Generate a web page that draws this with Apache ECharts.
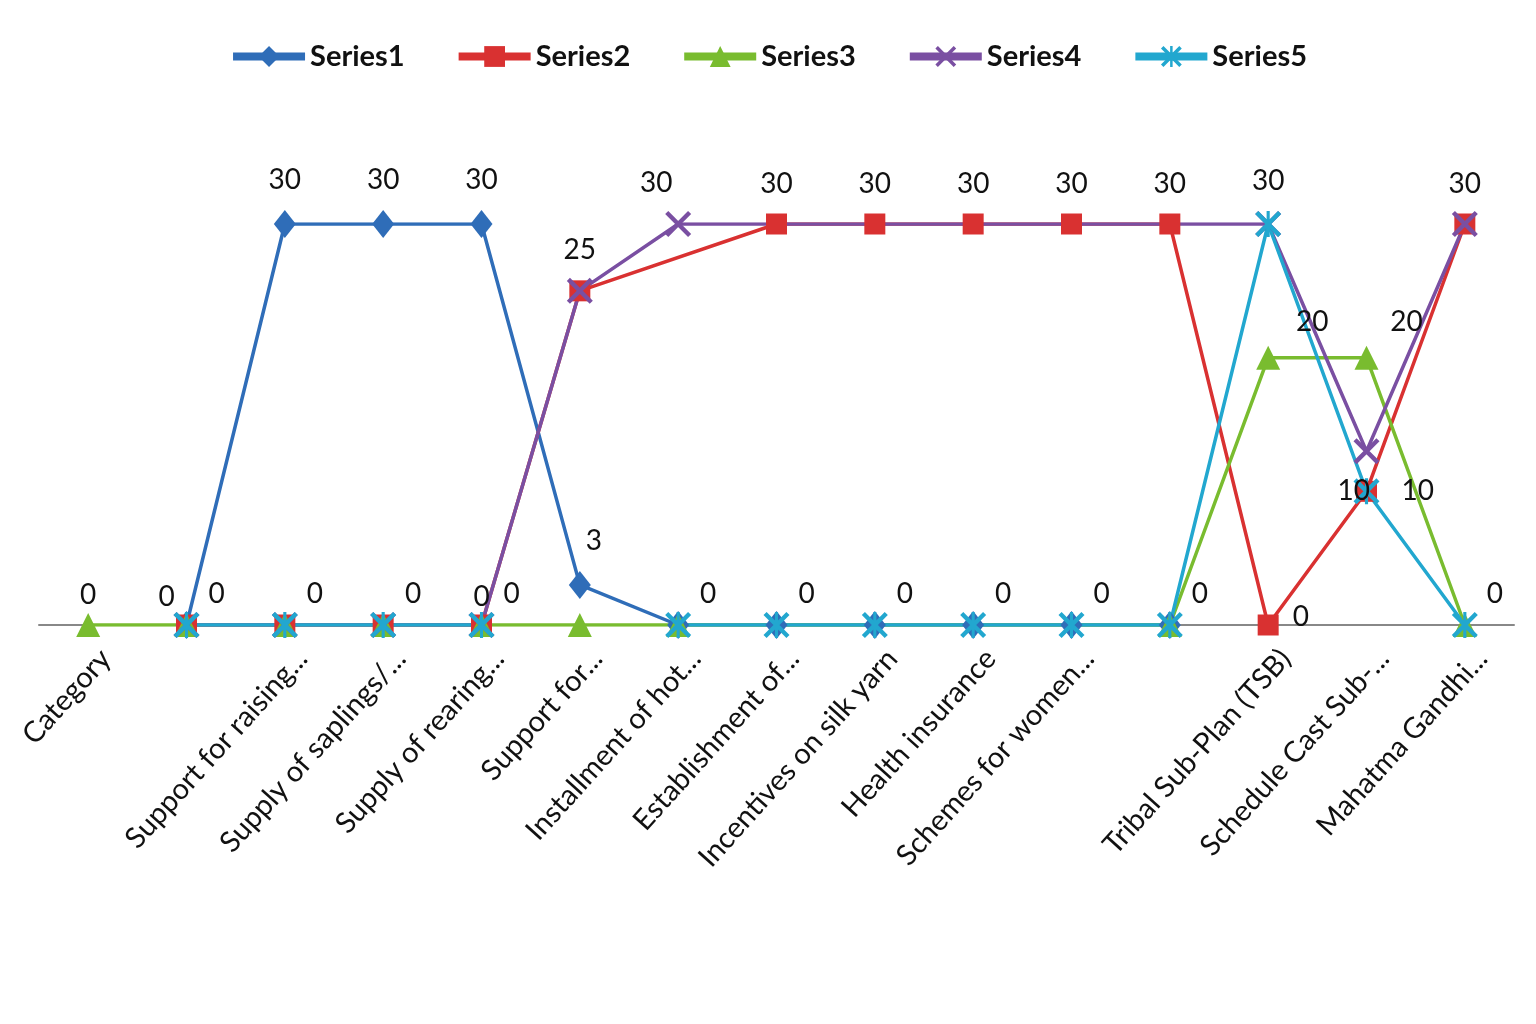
<!DOCTYPE html>
<html>
<head>
<meta charset="utf-8">
<title>Series chart</title>
<script src="https://cdn.jsdelivr.net/npm/echarts@6/dist/echarts.min.js"></script>
<style>
  html, body { margin: 0; padding: 0; background: #fff; }
  #chart { width: 1536px; height: 1024px; }
</style>
</head>
<body>
<div id="chart"></div>
<script>
// categories (two unlabeled slots, as in the source sheet)
const categories = [
  'Category', '', 'Support for raising...', 'Supply of saplings/...', 'Supply of rearing...',
  'Support for...', 'Installment of hot...', 'Establishment of...', 'Incentives on silk yarn',
  'Health insurance', 'Schemes for women...', '', 'Tribal Sub-Plan (TSB)',
  'Schedule Cast Sub-...', 'Mahatma Gandhi...'
];

const series1 = [null, 0, 30, 30, 30, 3, 0, 0, 0, 0, 0, 0, null, null, null];
const series2 = [null, 0, 0, 0, 0, 25, null, 30, 30, 30, 30, 30, 0, 10, 30];
const series3 = [0, 0, 0, 0, 0, 0, 0, null, null, null, null, 0, 20, 20, 0];
const series4 = [null, 0, 0, 0, 0, 25, 30, null, null, null, null, null, 30, 13, 30];
const series5 = [null, 0, 0, 0, 0, null, 0, 0, 0, 0, 0, 0, 30, 10, 0];

const FONT = 'Lato, "Open Sans", sans-serif';

const xPath = 'path://M0,1.2L1.2,0L10,8.8L8.8,10Z M8.8,0L10,1.2L1.2,10L0,8.8Z';
const starPath = xPath + ' M4.4,0L5.6,0L5.6,10L4.4,10Z';

// label placements
const above = { position: 'top', distance: 16 };
const zeroTop = { position: 'top', distance: 4 };
const zeroRight = { position: 'top', distance: 4, offset: [30, 0] };
const zeroLeft = { position: 'top', distance: 4, offset: [-20, 0] };

function withLabels(values, marks) {
  return values.map(function (v, i) {
    const m = marks[i];
    return {
      value: v === null ? '-' : v,
      label: m ? Object.assign({ show: true }, m) : { show: false }
    };
  });
}

function lineSeries(name, color, data, symbol, size, extra) {
  return Object.assign({
    name: name,
    type: 'line',
    data: data,
    symbol: symbol,
    symbolSize: size,
    showAllSymbol: true,
    lineStyle: { color: color, width: 3.5 },
    itemStyle: { color: color },
    label: { color: '#111', fontFamily: FONT, fontSize: 28 },
    emphasis: { disabled: true },
    animation: false
  }, extra || {});
}

let chart = echarts.init(document.getElementById('chart'));
chart.setOption({
  backgroundColor: '#fff',
  textStyle: { fontFamily: FONT },
  legend: {
    top: 37,
    left: 'center',
    itemWidth: 72,
    itemHeight: 26,
    itemGap: 50,
    lineStyle: { width: 8 },
    textStyle: { fontFamily: FONT, fontSize: 29, fontWeight: 'bold', color: '#111' }
  },
  grid: { left: 39, right: 22, top: 224, bottom: 399 },
  xAxis: {
    type: 'category',
    data: categories,
    boundaryGap: true,
    axisLine: { lineStyle: { color: '#888', width: 2 } },
    axisTick: { show: false },
    axisLabel: {
      rotate: 48,
      interval: 0,
      margin: 48,
      padding: [0, -26, 0, 0],
      color: '#111',
      fontFamily: FONT,
      fontSize: 29
    }
  },
  yAxis: {
    type: 'value',
    min: 0,
    max: 30,
    show: false,
    splitLine: { show: false }
  },
  series: [
    lineSeries('Series1', '#2f6db8', withLabels(series1, {
      2: above, 3: above, 4: above,
      5: { position: 'top', distance: 16, offset: [14, 0] }
    }), 'diamond', [22, 28]),
    lineSeries('Series2', '#d93131', withLabels(series2, {
      1: zeroLeft, 4: zeroTop, 5: above,
      7: above, 8: above, 9: above, 10: above, 11: above,
      12: { position: 'right', distance: 14, offset: [0, -8] },
      13: { position: 'left', distance: -14 },
      14: above
    }), 'rect', 21, { connectNulls: true, z: 3 }),
    lineSeries('Series3', '#79bc2f', withLabels(series3, {
      0: zeroTop,
      12: { position: 'top', distance: 10, offset: [44, 0] },
      13: { position: 'top', distance: 10, offset: [40, 0] }
    }), 'triangle', 24, { connectNulls: true }),
    lineSeries('Series4', '#7a4fa2', withLabels(series4, {
      6: { position: 'top', distance: 14, offset: [-22, 0] }
    }), xPath, 26, { connectNulls: true }),
    lineSeries('Series5', '#22a7cf', withLabels(series5, {
      1: zeroRight, 2: zeroRight, 3: zeroRight, 4: zeroRight,
      6: zeroRight, 7: zeroRight, 8: zeroRight, 9: zeroRight, 10: zeroRight, 11: zeroRight,
      12: above,
      13: { position: 'right', distance: 22 },
      14: zeroRight
    }), starPath, 26)
  ]
});
</script>
</body>
</html>
